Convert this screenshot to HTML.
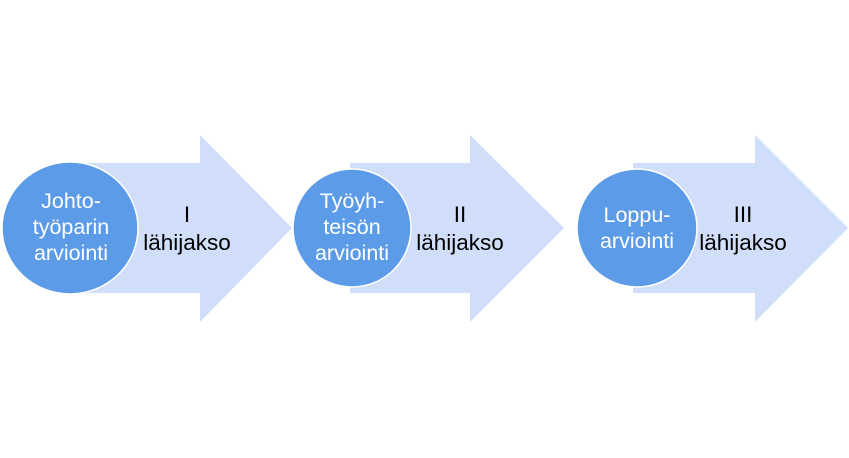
<!DOCTYPE html>
<html><head><meta charset="utf-8"><style>
html,body{margin:0;padding:0;background:#fff;width:849px;height:458px;overflow:hidden}
text{font-family:"Liberation Sans",sans-serif}
</style></head><body>
<svg width="849" height="458" viewBox="0 0 849 458" xmlns="http://www.w3.org/2000/svg">
<g fill="#d0def9">
<polygon points="85,163 200,163 200,135 292,228 200,322 200,293 85,293"/>
<polygon points="350,163 470,163 470,135 564,228 470,322 470,293 350,293"/>
<polygon points="633,163 755,163 755,135 848,228 755,322 755,293 633,293"/>
</g>
<g fill="#5b9be8" stroke="#fff" stroke-width="1.5">
<ellipse cx="70" cy="228" rx="68" ry="66"/>
<ellipse cx="352" cy="228" rx="59" ry="59"/>
<ellipse cx="637" cy="228" rx="60" ry="59"/>
</g>
<g fill="#fff" text-anchor="middle" font-size="21.5">
<text x="71" y="208">Johto-</text>
<text x="71" y="234">työparin</text>
<text x="71" y="260">arviointi</text>
<text x="352" y="208">Työyh-</text>
<text x="352" y="234">teisön</text>
<text x="352" y="260">arviointi</text>
<text x="637" y="222">Loppu-</text>
<text x="637" y="248">arviointi</text>
</g>
<g fill="#000" text-anchor="middle" font-size="22.5">
<text x="187" y="222">I</text>
<text x="187" y="250">lähijakso</text>
<text x="460" y="222">II</text>
<text x="460" y="250">lähijakso</text>
<text x="743" y="222">III</text>
<text x="743" y="250">lähijakso</text>
</g>
</svg>
</body></html>
